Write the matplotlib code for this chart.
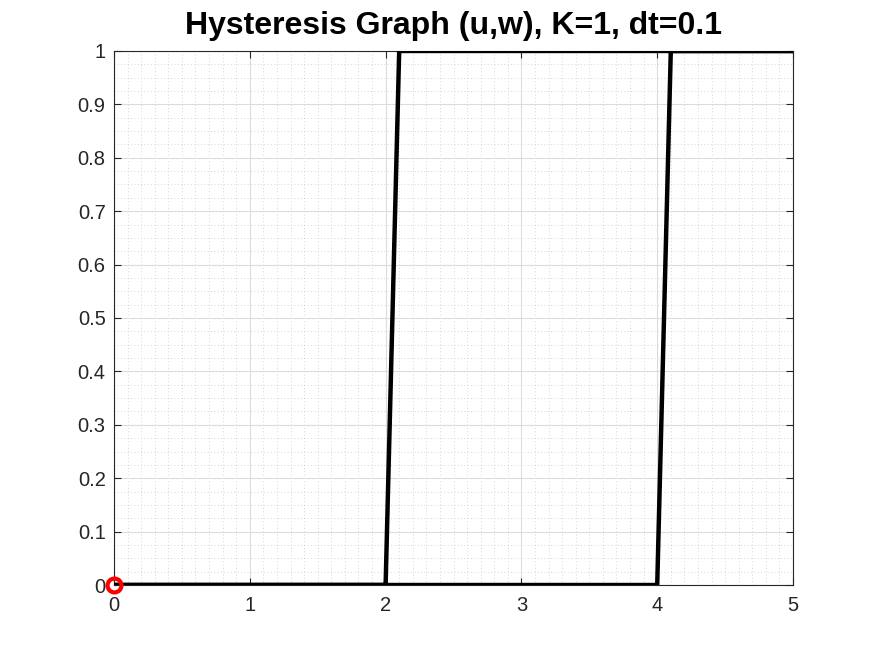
import numpy as np
import matplotlib
matplotlib.use('Agg')
import matplotlib.pyplot as plt
from matplotlib.ticker import MultipleLocator

# hysteresis path: u up 0 -> 5, then back down 5 -> 0
u_path = [0, 1, 2, 3, 4, 4.1, 5, 4, 3, 2.1, 2, 1, 0]
w_path = [0, 0, 0, 0, 0, 1, 1, 1, 1, 1, 0, 0, 0]
start_u = [0]
start_w = [0]

x_ticks = [0, 1, 2, 3, 4, 5]
y_ticks = [0, 0.1, 0.2, 0.3, 0.4, 0.5, 0.6, 0.7, 0.8, 0.9, 1]
y_labels = ['0', '0.1', '0.2', '0.3', '0.4', '0.5', '0.6', '0.7', '0.8', '0.9', '1']

plt.rcParams['font.family'] = ['Liberation Sans', 'DejaVu Sans']

fig = plt.figure(figsize=(8.75, 6.56), dpi=100)
ax = fig.add_axes([0.1303, 0.1082, 0.7760, 0.8141])

ax.plot(u_path, w_path, color='black', linewidth=3.2, zorder=3)
ax.plot(start_u, start_w, 'o', markersize=10, markerfacecolor='none',
        markeredgecolor='red', markeredgewidth=3, zorder=4, clip_on=False)

ax.set_xlim(0, 5)
ax.set_ylim(0, 1)
ax.set_xticks(x_ticks)
ax.set_xticklabels([str(t) for t in x_ticks])
ax.set_yticks(y_ticks)
ax.set_yticklabels(y_labels)
ax.xaxis.set_minor_locator(MultipleLocator(0.1))
ax.yaxis.set_minor_locator(MultipleLocator(0.025))

ax.grid(True, which='major', color='#dcdcdc', linewidth=0.8, linestyle='-')
ax.grid(True, which='minor', color='#c8c8c8', linewidth=0.6, linestyle=(0, (1, 3)))
ax.set_axisbelow(True)

ax.tick_params(which='both', direction='in', top=True, right=True,
               labelsize=14.5, colors='#262626', labelcolor='#262626')
ax.tick_params(which='major', length=5, width=0.8)
ax.tick_params(which='minor', length=0)
ax.tick_params(axis='x', pad=8)
ax.tick_params(axis='y', pad=6)
for s in ax.spines.values():
    s.set_color('#262626')
    s.set_linewidth(0.8)

ax.set_title('Hysteresis Graph (u,w), K=1, dt=0.1', fontsize=23,
             fontweight='bold', color='black', pad=12)

fig.savefig('out.png', dpi=100, facecolor='white')
